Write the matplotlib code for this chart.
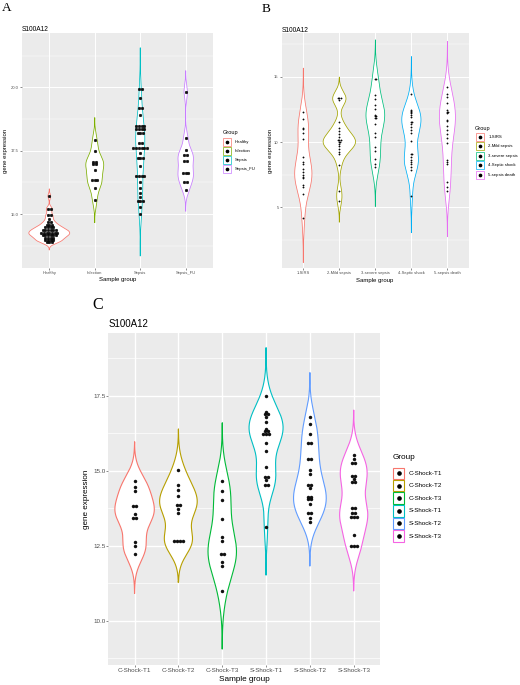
import numpy as np
import matplotlib
matplotlib.use('Agg')
import matplotlib.pyplot as plt
from matplotlib.patches import Rectangle
from matplotlib.lines import Line2D

W, H = 520, 685
SANS = 'Liberation Sans'
SERIF = 'Liberation Serif'

# ---------------- Data ----------------
A_groups = ['Healthy', 'Infection', 'Sepsis', 'Sepsis_FU']
A_colors = ['#F8766D', '#7CAE00', '#00BFC4', '#C77CFF']
A_healthy = [15.7, 15.2, 15.2, 14.95, 14.95, 14.82, 14.7, 14.7,
             14.58, 14.58, 14.58, 14.47, 14.47, 14.47, 14.47,
             14.37, 14.37, 14.37, 14.37, 14.37, 14.37,
             14.26, 14.26, 14.26, 14.26, 14.26, 14.26, 14.26,
             14.16, 14.16, 14.16, 14.16, 14.16, 14.16,
             14.06, 14.06, 14.06, 14.06, 13.96, 13.96, 13.96, 13.96,
             13.88, 13.88, 13.88]
A_infection = [17.92, 17.5, 17.06, 17.06, 16.97, 16.97, 16.74,
               16.34, 16.34, 16.34, 16.03, 15.55]
A_sepsis = [19.92, 19.92, 19.59, 19.17, 19.17, 18.91,
            18.47, 18.47, 18.47, 18.47, 18.36, 18.36, 18.36, 18.36,
            18.18, 18.18, 18.18, 17.82, 17.82,
            17.59, 17.59, 17.59, 17.59, 17.59, 17.59, 17.4,
            17.2, 17.2, 17.2, 16.91, 16.51, 16.51, 16.51, 16.51,
            16.25, 16.01, 15.82, 15.68, 15.51, 15.51, 15.51, 15.29, 14.99]
A_sepsis_fu = [19.82, 18.01, 17.53, 17.32, 17.32, 17.09, 17.09,
               16.63, 16.63, 16.63, 16.28, 16.28, 15.95]
A_yticks = [15.0, 17.5, 20.0]
A_yticklabels = ['15.0', '17.5', '20.0']

B_groups = ['1-SIRS', '2-Mild sepsis', '3-severe sepsis', '4-Septic shock', '5-sepsis death']
B_colors = ['#F8766D', '#A3A500', '#00BF7D', '#00B0F6', '#E76BF3']
B_sirs = [12.3, 11.75, 11.1, 11.0, 10.7, 10.25, 8.85, 8.45, 8.3, 7.95,
          7.7, 7.45, 7.3, 7.25, 6.7, 6.55, 6.0, 4.15]
B_mild = [13.35, 13.35, 13.35, 13.25, 11.5, 11.1, 10.85, 10.65, 10.35,
          10.12, 10.12, 10.12, 9.98, 9.98, 9.85, 9.7, 9.5, 9.25, 9.05,
          8.25, 6.25, 5.5]
B_severe = [14.85, 14.85, 13.6, 13.3, 12.8, 12.5, 12.1, 12.0, 12.0,
            11.85, 11.85, 11.4, 10.7, 10.4, 9.6, 9.3, 8.7, 8.3, 8.05]
B_septic = [13.7, 12.45, 12.35, 12.3, 12.2, 12.05, 11.9, 11.55, 11.55,
            11.4, 11.15, 10.9, 10.7, 10.1, 9.05, 9.05, 8.85, 8.65, 8.45,
            8.3, 8.05, 7.85, 5.9]
B_death = [14.2, 13.7, 13.45, 12.95, 12.45, 12.3, 12.3, 12.2, 11.65,
           11.6, 11.2, 10.9, 10.6, 10.3, 9.9, 8.6, 8.5, 8.35, 6.95,
           6.55, 6.25]
B_yticks = [5, 10, 15]
B_yticklabels = ['5', '10', '15']

C_groups = ['C-Shock-T1', 'C-Shock-T2', 'C-Shock-T3', 'S-Shock-T1', 'S-Shock-T2', 'S-Shock-T3']
C_colors = ['#F8766D', '#B79F00', '#00BA38', '#00BFC4', '#619CFF', '#F564E3']
C_ct1 = [14.67, 14.46, 14.32, 13.82, 13.82, 13.57, 13.43, 13.43, 12.62, 12.49, 12.23]
C_ct2 = [15.04, 14.54, 14.38, 14.16, 13.88, 13.88, 13.74, 13.6,
         12.66, 12.66, 12.66, 12.66]
C_ct3 = [14.68, 14.32, 14.04, 13.4, 12.79, 12.66, 12.24, 12.24, 11.96, 11.82, 11.0]
C_st1 = [17.51, 16.98, 16.89, 16.89, 16.81, 16.62, 16.4, 16.33, 16.33,
         16.23, 16.23, 16.23, 15.92, 15.67, 15.14, 14.81, 14.81, 14.7,
         14.53, 14.53, 13.14]
C_st2 = [16.81, 16.56, 16.22, 15.92, 15.92, 15.39, 15.39, 15.03, 14.89,
         14.53, 14.53, 14.42, 14.12, 14.12, 14.05, 14.05, 13.9, 13.59,
         13.59, 13.42, 13.31]
C_st3 = [15.53, 15.4, 15.26, 15.26, 14.84, 14.84, 14.73, 14.62, 14.62,
         13.76, 13.76, 13.59, 13.59, 13.46, 13.46, 13.46, 12.87,
         12.51, 12.51, 12.51]
C_yticks = [10.0, 12.5, 15.0, 17.5]
C_yticklabels = ['10.0', '12.5', '15.0', '17.5']


# ---------------- helpers ----------------
def fx(x):
    return x / W


def fy(y):
    return 1 - y / H


def nrd0(x):
    x = np.asarray(x, float)
    sd = x.std(ddof=1)
    q75, q25 = np.percentile(x, [75, 25])
    lo = min(sd, (q75 - q25) / 1.34)
    if lo <= 0:
        lo = sd
    return 0.9 * lo * len(x) ** -0.2


def kde(x):
    x = np.asarray(x, float)
    bw = nrd0(x)
    g = np.linspace(x.min() - 3 * bw, x.max() + 3 * bw, 512)
    d = np.exp(-0.5 * ((g[:, None] - x[None, :]) / bw) ** 2).sum(1)
    d /= len(x) * bw * np.sqrt(2 * np.pi)
    return g, d


def panel(box, groups, data, colors, ylim, yticks, yticklabels, minor,
          dot_px, vlw, glw, tick_fs):
    l, t, r, b = box
    ax = fig.add_axes([fx(l), fy(b), (r - l) / W, (b - t) / H])
    n = len(groups)
    ax.set_facecolor('#EBEBEB')
    for s in ax.spines.values():
        s.set_visible(False)
    ax.set_xlim(0.4, n + 0.6)
    ax.set_ylim(*ylim)
    ax.set_xticks(range(1, n + 1))
    ax.set_xticklabels(groups)
    ax.set_yticks(yticks)
    ax.set_yticklabels(yticklabels)
    ax.set_yticks(minor, minor=True)
    ax.set_axisbelow(True)
    ax.grid(which='major', color='white', lw=glw)
    ax.grid(which='minor', axis='y', color='white', lw=glw * 0.5)
    ax.tick_params(which='major', length=1.2, width=0.4, color='#333333',
                   labelsize=tick_fs, labelcolor='#4D4D4D', pad=1)
    ax.tick_params(which='minor', length=0)
    for lab in ax.get_xticklabels() + ax.get_yticklabels():
        lab.set_family(SANS)
    dens = [kde(v) for v in data]
    maxd = max(d.max() for _, d in dens)
    px_per_unit = (r - l) / (n + 0.2)
    dx = dot_px / px_per_unit
    msize = dot_px * 72 / 100
    for i, ((g, d), vals) in enumerate(zip(dens, data)):
        xc = i + 1
        w = 0.45 * d / maxd
        ax.fill_betweenx(g, xc - w, xc + w, facecolor='white',
                         edgecolor='none', zorder=2)
        ax.plot(np.r_[xc - w, (xc + w)[::-1], xc - w[0]],
                np.r_[g, g[::-1], g[0]], color=colors[i], lw=vlw, zorder=3)
        uv, cnt = np.unique(np.round(vals, 3), return_counts=True)
        xs, ys = [], []
        for v, k in zip(uv, cnt):
            for j in range(k):
                xs.append(xc + (j - (k - 1) / 2) * dx)
                ys.append(v)
        ax.plot(xs, ys, 'o', ms=msize, mfc='#111111', mec='black',
                mew=0.3, zorder=4, ls='none')
    return ax


def legend(x, ytitle, rows_y, key, labels, colors, title_fs, lab_fs, vlw, dot_px, lab_x):
    fig.text(fx(x), fy(ytitle), 'Group', family=SANS, fontsize=title_fs,
             ha='left', va='center')
    for yy, lab, c in zip(rows_y, labels, colors):
        fig.add_artist(Rectangle((fx(x + 0.5), fy(yy + key / 2 - 0.5)),
                                 (key - 1) / W, (key - 1) / H,
                                 transform=fig.transFigure, facecolor='white',
                                 edgecolor=c, lw=vlw))
        fig.add_artist(Line2D([fx(x + key / 2)], [fy(yy)], marker='o',
                              ms=dot_px * 72 / 100, mfc='black', mec='black',
                              transform=fig.transFigure, ls='none'))
        fig.text(fx(lab_x), fy(yy), lab, family=SANS, fontsize=lab_fs,
                 ha='left', va='center', color='black')


fig = plt.figure(figsize=(W / 100, H / 100), dpi=100)
fig.patch.set_facecolor('white')

# ---------------- Panel A ----------------
panel((22, 33, 213, 268), A_groups,
      [A_healthy, A_infection, A_sepsis, A_sepsis_fu], A_colors,
      (12.87, 22.14), A_yticks, A_yticklabels, [13.75, 16.25, 18.75, 21.25],
      2.7, 0.55, 0.7, 3.0)
fig.text(fx(2), fy(11), 'A', family=SERIF, fontsize=9.5, ha='left', va='baseline')
fig.text(fx(22), fy(30.7), 'S100A12', family=SANS, fontsize=4.8, ha='left', va='baseline')
fig.text(fx(117.5), fy(280), 'Sample group', family=SANS, fontsize=4.3, ha='center', va='center')
fig.text(fx(5.3), fy(150.5), 'gene expression', family=SANS, fontsize=4.3,
         ha='center', va='center', rotation=90)
legend(222.7, 132.7, [142.3, 151.2, 160.2, 169.2], 9, A_groups, A_colors,
       4.1, 3.1, 0.5, 2.3, 235)

# ---------------- Panel B ----------------
panel((281.7, 33, 469, 268), B_groups,
      [B_sirs, B_mild, B_severe, B_septic, B_death], B_colors,
      (0.36, 18.34), B_yticks, B_yticklabels, [2.5, 7.5, 12.5, 17.5],
      1.3, 0.55, 0.7, 3.0)
fig.text(fx(262), fy(11.7), 'B', family=SERIF, fontsize=9.5, ha='left', va='baseline')
fig.text(fx(281.7), fy(32), 'S100A12', family=SANS, fontsize=4.8, ha='left', va='baseline')
fig.text(fx(375), fy(280.5), 'Sample group', family=SANS, fontsize=4.3, ha='center', va='center')
fig.text(fx(270.5), fy(150.5), 'gene expression', family=SANS, fontsize=4.3,
         ha='center', va='center', rotation=90)
legend(475, 128.3, [136.7, 146.3, 155.8, 165.4, 175.0], 9, B_groups, B_colors,
       4.1, 3.1, 0.5, 2.3, 488.3)

# ---------------- Panel C ----------------
panel((108.3, 332.7, 380, 665), C_groups,
      [C_ct1, C_ct2, C_ct3, C_st1, C_st2, C_st3], C_colors,
      (8.53, 19.61), C_yticks, C_yticklabels, [8.75, 11.25, 13.75, 16.25, 18.75],
      3.0, 0.8, 1.0, 4.5)
fig.text(fx(92.5), fy(309), 'C', family=SERIF, fontsize=11.5, ha='left', va='baseline')
fig.text(fx(108.3), fy(326.7), 'S100A12', family=SANS, fontsize=7, ha='left', va='baseline')
fig.text(fx(244), fy(679.5), 'Sample group', family=SANS, fontsize=5.9, ha='center', va='center')
fig.text(fx(86), fy(499), 'gene expression', family=SANS, fontsize=5.9,
         ha='center', va='center', rotation=90)
legend(392.3, 457.5, [473.3, 485.5, 498.0, 510.8, 523.3, 536.0], 12.5, C_groups, C_colors,
       5.9, 4.5, 0.8, 3.2, 409)

fig.savefig('out.png', dpi=100, facecolor='white')
